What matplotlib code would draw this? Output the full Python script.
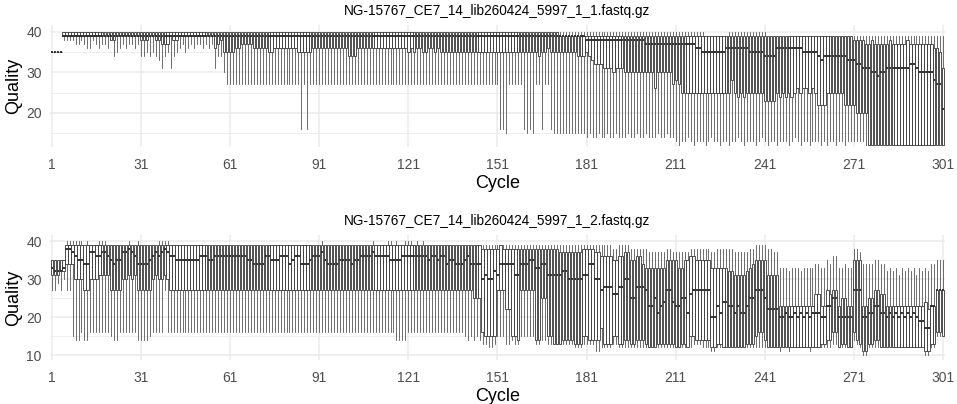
import numpy as np
import matplotlib
matplotlib.use("Agg")
import matplotlib.pyplot as plt

plt.rcParams['font.family'] = ['Liberation Sans', 'DejaVu Sans']

cycles = list(range(1, 302))
xticks = list(range(1, 302, 30))

title1 = "NG-15767_CE7_14_lib260424_5997_1_1.fastq.gz"
title2 = "NG-15767_CE7_14_lib260424_5997_1_2.fastq.gz"

# ---- read 1: per-cycle box stats (whisker low, q1, median, q3, whisker high)
r1_lo = ([35] * 4 +
         [38, 38, 38, 38, 37, 37, 38, 37, 36, 36, 38, 37, 36, 37, 37, 36, 38, 34, 35, 36,
          37, 36, 37, 37, 36, 37, 34, 34, 35, 34, 35, 34, 33, 31, 34, 35, 31, 34, 35, 36,
          37, 35, 36, 37, 36, 37, 37, 36, 37, 36, 37] +
         [31, 34, 34, 30, 27] + [27] * 24 + [16, 27, 16, 27] + [27] * 63 +
         [16, 16, 15] + [27] * 5 + [16, 15, 16, 15] + [27, 27, 16, 27, 27, 16, 15] +
         [15] * 10 +
         [14, 15, 14, 14, 15, 14, 14, 15, 14, 14, 15, 14, 14, 14, 15, 14, 14, 15, 14, 14,
          15, 14, 14, 14, 15, 14, 14, 15, 14, 14] +
         [13, 12, 13, 13, 14, 13, 12, 13, 13, 13, 12, 13, 14, 13, 13, 12, 13, 13, 12, 13,
          13, 14, 13, 12, 13, 13, 13, 12, 13, 14, 13, 12, 13, 13, 12, 13, 13, 13, 12, 13,
          14, 13, 12, 13, 13, 12, 13, 13, 13, 12, 13, 12, 13, 13, 12, 13, 13, 12, 13, 13] +
         [13] * 4 + [12] * 27)
r1_q1 = ([35] * 4 +
         [39, 39, 39, 39, 39, 39, 39, 39, 39, 39, 39, 39, 39, 39, 39, 39, 38, 38, 39, 39,
          39, 39, 39, 39, 39, 39, 38, 38, 38, 39, 39, 38, 38, 37, 37, 37, 39, 38, 38, 39,
          39, 39, 39, 39, 39, 39, 39, 39, 39, 39, 39] +
         [36, 37, 38, 35, 35, 35, 35] +
         [36, 36, 37, 37, 37, 37, 36, 36, 36, 36, 36, 35, 35, 36, 36, 36, 36, 36, 36, 36,
          36, 35, 35, 35, 35, 35] +
         [36] * 12 + [34] * 3 + [36] * 17 +
         [35, 36, 35, 36, 36, 35, 35, 36, 36, 35, 36, 35] +
         [35] * 32 + [34] + [35, 35] + [36] + [35] * 9 + [34] * 3 +
         [35, 34, 33, 32, 32, 32, 31, 31, 31, 30, 31, 31, 31, 30, 30, 30, 30, 30, 30, 30,
          30, 30, 30, 26, 30, 30, 30, 30, 30, 27, 28, 27] +
         [25] * 17 + [28] + [25, 24, 25, 24, 25, 25, 25, 25, 25, 25] + [23] * 4 +
         [25, 24, 25, 24, 25, 24, 25] + [26, 25, 26, 26, 25, 26, 25] + [22] * 3 +
         [25] * 6 + [22] * 4 + [20] * 4 + [12] * 26)
r1_med = ([35] * 4 + [39] * 176 + [38] * 20 + [37] * 17 + [36] * 2 + [35] * 8 +
          [36] * 8 + [35] * 5 + [34] * 4 + [36] * 9 + [35] * 5 + [34, 33, 34] +
          [34] * 7 + [33] * 3 + [32] * 2 + [31] * 3 + [30, 30, 29, 30, 30] +
          [31] * 8 + [32, 32, 31] + [30] * 5 + [28, 27, 27, 21])
r1_q3 = ([35] * 4 + [40] * 167 + [39] * 99 + [38] * 4 +
         [37, 37, 38, 37, 37, 37, 37, 37, 38, 37, 37, 37, 37, 37, 38, 37, 37, 37, 37, 37,
          37, 37, 37] +
         [36, 36, 35, 31])
r1_hi = [35] * 4 + [40] * 216 + [39] * 8 + [40] * 13 + [39] * 60

# ---- read 2
r2_lo = ([27, 27, 29, 27, 30, 27, 27, 15, 14, 14, 16, 14, 14, 16, 16, 16, 16, 16, 16, 16,
          15, 14, 14, 16, 16, 16, 16, 16, 16, 14, 14, 14, 14, 15, 16, 16, 16, 16, 27, 16,
          16, 16, 16, 16] +
         [16] * 72 + [14] * 4 + [16] * 19 + [15, 14, 15, 14, 15, 14] +
         [13, 13, 12, 12, 13, 15, 15, 15, 13, 13, 14, 13, 13, 15, 15, 15, 15, 15, 13, 13,
          14, 14, 13, 13, 13, 13, 13, 13, 13, 13, 13, 12, 12, 12, 13, 13, 13, 13, 11, 11,
          12, 12, 12, 12, 13, 13, 12, 12, 12, 12, 12, 12, 12, 12, 12, 12, 12, 12, 12, 12,
          12, 12, 12, 12, 12, 12, 12, 12, 12, 12, 12, 13, 13, 13, 12, 12, 12, 11, 11, 12,
          12, 12, 12, 12, 12, 12, 12, 12, 12, 12, 12, 12, 12, 12, 12, 12, 12, 12, 12, 12,
          11, 12, 12, 11, 12, 12, 12, 12, 12, 12, 11, 12, 12, 12, 12, 12, 12, 12, 13, 13,
          12, 12, 12, 12, 12, 14, 13, 12, 10, 10, 12, 12, 12, 12, 12, 12, 12, 12, 12, 12,
          12, 12, 12, 12, 12, 12, 12, 12, 12, 10, 10, 12, 12, 15, 15, 15])
r2_q1 = ([31, 31, 31, 32, 32, 34, 34, 34, 30, 30, 30, 27, 27, 30, 30, 30, 31, 31, 31, 31,
          27, 27, 27, 27, 30, 30, 31, 30, 31, 27, 27, 27, 27, 27, 30, 31, 30, 30, 31, 30,
          27, 27, 27, 27] +
         [27] * 98 + [25] * 3 +
         [16, 15, 15, 15, 15, 27, 27, 27, 22, 22, 15, 15, 14, 27, 27, 27, 27, 27, 14, 14,
          25, 25, 15, 15, 13, 13, 13, 14, 14, 14, 14, 13, 13, 13, 15, 15, 14, 14, 14, 14,
          17, 13, 13, 13, 15, 15, 13, 13, 14, 14, 13, 13, 14, 14, 14, 13, 12, 12, 12, 13,
          13, 13, 13, 13, 13, 12, 12, 13, 13, 12, 15, 15, 14, 14, 14, 14, 14, 12, 12, 13,
          13, 12, 12, 12, 12, 12, 12, 12, 12, 13, 13, 13, 15, 16, 16, 14, 12, 12, 12, 12,
          12, 12, 12, 12, 12, 12, 12, 12, 12, 12, 12, 12, 12, 12, 13, 13, 14, 14, 16, 16,
          12, 13, 13, 12, 12, 16, 14, 13, 11, 11, 13, 13, 14, 14, 12, 12, 12, 12, 12, 12,
          12, 12, 12, 12, 12, 12, 12, 12, 12, 11, 11, 13, 13, 16, 16, 15])
r2_med = ([33, 32, 32, 32, 33, 38, 38, 37, 36, 35, 35, 34, 34, 37, 37, 36, 36, 37, 37, 36,
           35, 34, 35, 35, 37, 37, 38, 37, 36, 34, 34, 34, 34, 35, 36, 37, 36, 37, 38, 37,
           36, 36, 35, 35] +
          [35] * 6 + [36] * 3 + [35] * 2 + [36] * 11 + [35] * 2 + [34] * 4 +
          [36, 36, 35, 35, 35] + [36] * 3 + [34, 35, 36, 36] + [34] * 3 + [35] +
          [36] * 3 + [37, 35] + [34] * 4 + [35] * 4 + [34, 35, 35] + [36] * 4 + [37] +
          [36] * 5 + [35] * 4 + [36] * 9 + [35, 36, 36, 35, 36, 36, 34, 35, 35] +
          [34] * 3 + [35, 36] + [34] * 4 +
          [30, 31, 30, 30, 32, 31, 34, 34, 34, 34, 34, 31, 31, 34, 34, 34, 35, 35, 33, 33,
           34, 34, 31, 31, 31, 31, 31, 32, 32, 30, 30, 30, 30, 30, 31, 31, 34, 34, 30, 30,
           27, 28, 28, 28, 26, 26, 28, 28, 30, 30, 25, 25, 28, 28, 28, 27, 23, 23, 25, 21,
           23, 24, 27, 27, 24, 23, 23, 25, 25, 21, 26, 27, 27, 27, 27, 27, 27, 20, 20, 23,
           21, 24, 24, 23, 23, 21, 23, 21, 21, 23, 25, 25, 27, 27, 27, 25, 22, 22, 22, 22,
           20, 20, 21, 20, 20, 21, 20, 21, 20, 21, 20, 21, 21, 21, 20, 20, 23, 23, 25, 25,
           20, 20, 20, 20, 20, 27, 27, 27, 20, 20, 21, 21, 23, 23, 21, 21, 20, 21, 20, 21,
           20, 21, 20, 21, 20, 21, 20, 19, 19, 17, 17, 23, 23, 27, 27, 27])
r2_q3 = ([35] * 5 + [39] * 39 + [39] * 101 +
         [38, 38, 38, 38, 38, 38, 39, 38, 38, 38, 38, 38, 38, 38, 38, 38, 38, 38, 38, 38,
          38, 38, 38, 38, 38, 38, 37, 37, 37, 37, 37, 37, 37, 37, 38, 38, 38, 38, 37, 37,
          36, 36, 36, 36, 35, 35, 36, 36, 37, 37, 35, 35, 36, 36, 34, 33, 33, 33, 33, 33,
          33, 33, 35, 35, 35, 35, 33, 33, 35, 35, 36, 36, 35, 35, 35, 35, 35, 33, 33, 33,
          33, 33, 33, 32, 32, 31, 31, 31, 31, 32, 33, 34, 35, 35, 35, 35, 31, 31, 31, 31,
          23, 23, 23, 23, 23, 23, 23, 23, 23, 23, 23, 23, 26, 26, 23, 23, 27, 26, 27, 27,
          23, 25, 25, 23, 23, 35, 35, 35, 23, 23, 25, 25, 27, 27, 26, 26, 23, 23, 23, 23,
          23, 23, 23, 23, 23, 23, 23, 23, 23, 24, 22, 23, 23, 27, 27, 27])
r2_hi = ([35] * 5 +
         [40, 40, 40, 40, 40, 40, 39, 40, 39, 39, 39, 40, 40, 40, 39, 39, 39, 39, 39, 39,
          39, 40, 39, 39, 40, 39, 39, 39, 39, 39, 39, 40, 40, 40, 40, 39, 39, 39, 39] +
         [39] * 47 + [40] + [39] * 16 + [40] + [39] * 4 + [40, 40, 39, 40, 39, 39] +
         [40, 40, 40, 39, 40, 39, 40] + [39] * 19 +
         [39] * 40 +
         [39, 39, 39, 39, 38, 38, 39, 39, 39, 39, 38, 38, 38, 38, 38, 38, 37, 37, 37, 37,
          37, 37, 38, 38, 37, 37, 37, 37, 37, 37, 38, 38, 38, 38, 38, 38, 38, 37, 37, 38,
          38, 38, 38, 38, 38, 37, 37, 37, 37, 37, 38, 38, 39, 39, 39, 39, 38, 38, 37, 37,
          33, 33, 33, 32, 33, 33, 33, 32, 33, 33, 33, 33, 34, 34, 33, 33, 35, 34, 36, 36,
          33, 33, 34, 33, 33, 38, 38, 37, 34, 34, 34, 34, 35, 35, 34, 34, 32, 33, 32, 33,
          31, 33, 32, 33, 32, 33, 31, 33, 32, 33, 32, 34, 34, 35, 35, 35])

EDGE = '#333333'
WHISK = '#555555'
GRID = '#EBEBEB'
TXT = '#4D4D4D'


def make_stats(lo, q1, med, q3, hi):
    return [dict(whislo=a, q1=b, med=c, q3=d, whishi=e, fliers=[])
            for a, b, c, d, e in zip(lo, q1, med, q3, hi)]


def draw_panel(ax, stats, title, ylim, yticks, yminor):
    ax.bxp(stats, positions=cycles, widths=0.8, showfliers=False, showcaps=False,
           patch_artist=True,
           boxprops=dict(facecolor='white', edgecolor=EDGE, linewidth=0.6),
           whiskerprops=dict(color=WHISK, linewidth=0.6),
           medianprops=dict(color=EDGE, linewidth=1.4))
    ax.set_xlim(0.4, 301.6)
    ax.set_ylim(*ylim)
    ax.set_xticks(xticks)
    ax.set_xticklabels([str(t) for t in xticks])
    ax.set_yticks(yticks)
    ax.set_yticks(yminor, minor=True)
    ax.set_axisbelow(True)
    ax.grid(True, which='major', color=GRID, linewidth=1.1)
    ax.grid(True, which='minor', axis='y', color=GRID, linewidth=0.6)
    for s in ax.spines.values():
        s.set_visible(False)
    ax.tick_params(which='both', length=0, labelsize=10, labelcolor=TXT)
    ax.tick_params(axis='x', pad=8)
    ax.tick_params(axis='y', pad=6)
    ax.set_title(title, fontsize=9.8, pad=7)
    ax.set_xlabel('Cycle', fontsize=13, labelpad=2)
    ax.set_ylabel('Quality', fontsize=13, labelpad=3)


fig = plt.figure(figsize=(9.57, 4.04), dpi=100)
ax1 = fig.add_axes([50 / 957, 1 - 147 / 404, 895 / 957, 122 / 404])
ax2 = fig.add_axes([50 / 957, 1 - 360 / 404, 895 / 957, 125 / 404])

draw_panel(ax1, make_stats(r1_lo, r1_q1, r1_med, r1_q3, r1_hi), title1,
           (11.6, 41.6), [20, 30, 40], [15, 25, 35])
draw_panel(ax2, make_stats(r2_lo, r2_q1, r2_med, r2_q3, r2_hi), title2,
           (8.7, 41.6), [10, 20, 30, 40], [15, 25, 35])

fig.savefig('out.png', dpi=100)
